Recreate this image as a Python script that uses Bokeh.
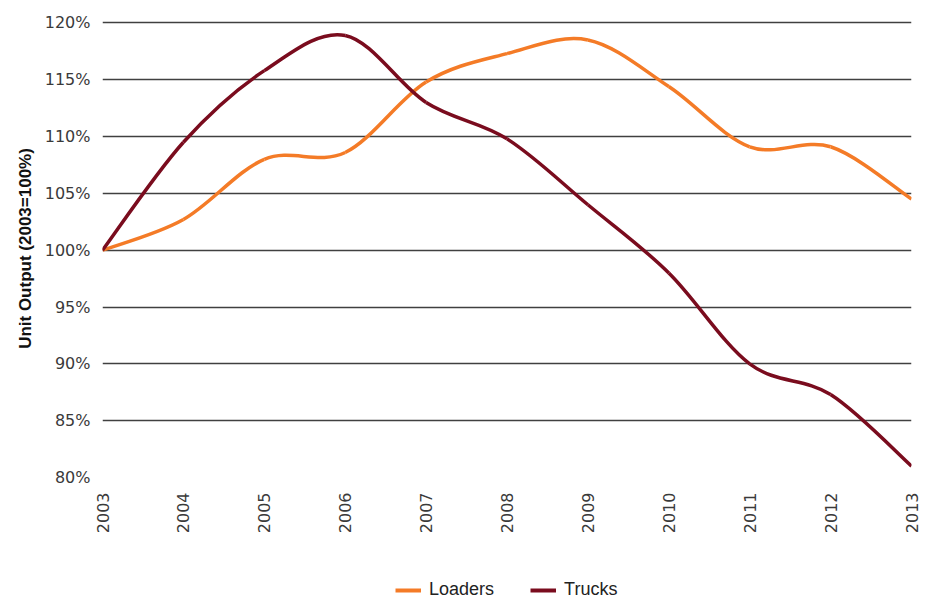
import numpy as np
from bokeh.plotting import figure
from bokeh.layouts import column
from bokeh.models import ColumnDataSource, FixedTicker, PrintfTickFormatter, Legend, LegendItem, Range1d
from bokeh.embed import file_html
from bokeh.resources import INLINE

years = [2003, 2004, 2005, 2006, 2007, 2008, 2009, 2010, 2011, 2012, 2013]
loaders = [100.0, 102.7, 108.0, 108.6, 114.8, 117.3, 118.5, 114.4, 109.1, 109.1, 104.5]
trucks = [100.0, 109.5, 115.8, 118.9, 113.0, 109.8, 104.0, 98.0, 90.0, 87.3, 81.0]
y_ticks = [80, 85, 90, 95, 100, 105, 110, 115, 120]

LOADER_COLOR = "#F47B27"
TRUCK_COLOR = "#7A0C1E"
TICK_FONT = "DejaVu Sans"


def bezier_source(xs, ys, t=1.0 / 6.0):
    x = np.asarray(xs, float)
    y = np.asarray(ys, float)
    n = len(x)
    d = dict(x0=[], y0=[], x1=[], y1=[], cx0=[], cy0=[], cx1=[], cy1=[])
    for i in range(n - 1):
        im = max(i - 1, 0)
        ip2 = min(i + 2, n - 1)
        d["x0"].append(x[i]); d["y0"].append(y[i])
        d["x1"].append(x[i + 1]); d["y1"].append(y[i + 1])
        d["cx0"].append(x[i] + (x[i + 1] - x[im]) * t)
        d["cy0"].append(y[i] + (y[i + 1] - y[im]) * t)
        d["cx1"].append(x[i + 1] - (x[ip2] - x[i]) * t)
        d["cy1"].append(y[i + 1] - (y[ip2] - y[i]) * t)
    return ColumnDataSource(d)


p = figure(width=924, height=575, output_backend="svg", toolbar_location=None,
           x_range=Range1d(2003, 2013), y_range=Range1d(80, 120.3),
           min_border_left=102, min_border_top=19, min_border_right=13, min_border_bottom=98)
p.outline_line_color = None
p.background_fill_color = "white"
p.border_fill_color = "white"

p.ygrid.grid_line_color = "#404040"
p.ygrid.grid_line_width = 1.5
p.xgrid.grid_line_color = None
p.ygrid.ticker = FixedTicker(ticks=y_ticks)

p.yaxis.ticker = FixedTicker(ticks=y_ticks)
p.yaxis.formatter = PrintfTickFormatter(format="%d%%")
p.yaxis.axis_line_color = None
p.yaxis.major_tick_line_color = None
p.yaxis.minor_tick_line_color = None
p.yaxis.major_label_text_font = TICK_FONT
p.yaxis.major_label_text_font_size = "16px"
p.yaxis.major_label_text_color = "#3a3a3a"
p.yaxis.major_label_standoff = 6
p.yaxis.axis_label = "Unit Output (2003=100%)"
p.yaxis.axis_label_text_font = "Liberation Sans"
p.yaxis.axis_label_text_font_style = "bold"
p.yaxis.axis_label_text_font_size = "17px"
p.yaxis.axis_label_text_color = "#111111"
p.yaxis.axis_label_standoff = 7

p.xaxis.ticker = FixedTicker(ticks=years)
p.xaxis.axis_line_color = None
p.xaxis.major_tick_line_color = None
p.xaxis.minor_tick_line_color = None
p.xaxis.major_label_orientation = np.pi / 2
p.xaxis.major_label_text_font = TICK_FONT
p.xaxis.major_label_text_font_size = "16px"
p.xaxis.major_label_text_color = "#3a3a3a"
p.xaxis.major_label_standoff = 9

p.bezier(x0="x0", y0="y0", x1="x1", y1="y1", cx0="cx0", cy0="cy0", cx1="cx1", cy1="cy1",
         source=bezier_source(years, loaders), line_color=LOADER_COLOR, line_width=3.5)
p.bezier(x0="x0", y0="y0", x1="x1", y1="y1", cx0="cx0", cy0="cy0", cx1="cx1", cy1="cy1",
         source=bezier_source(years, trucks), line_color=TRUCK_COLOR, line_width=3.5)

# legend strip below the chart (its frame is aligned with the chart frame by the column)
lf = figure(width=924, height=25, output_backend="svg", toolbar_location=None,
            x_range=Range1d(0, 1), y_range=Range1d(0, 1),
            min_border_left=0, min_border_right=0, min_border_top=0, min_border_bottom=0)
lf.axis.visible = False
lf.grid.visible = False
lf.outline_line_color = None
# legend proxies: series drawn outside this strip's visible range
lg_l = lf.line(x=years, y=loaders, line_color=LOADER_COLOR, line_width=4)
lg_t = lf.line(x=years, y=trucks, line_color=TRUCK_COLOR, line_width=4)

legend = Legend(items=[LegendItem(label="Loaders", renderers=[lg_l]),
                       LegendItem(label="Trucks", renderers=[lg_t])],
                orientation="horizontal", location=(293, 0))
legend.border_line_color = None
legend.background_fill_alpha = 0
legend.label_text_font = "Liberation Sans"
legend.label_text_font_size = "18px"
legend.label_text_color = "#222222"
legend.glyph_width = 26
legend.label_standoff = 8
legend.spacing = 36
legend.margin = 0
legend.padding = 2
lf.add_layout(legend, "center")

layout = column(p, lf, spacing=0)
open("out.html", "w").write(file_html(layout, INLINE))
